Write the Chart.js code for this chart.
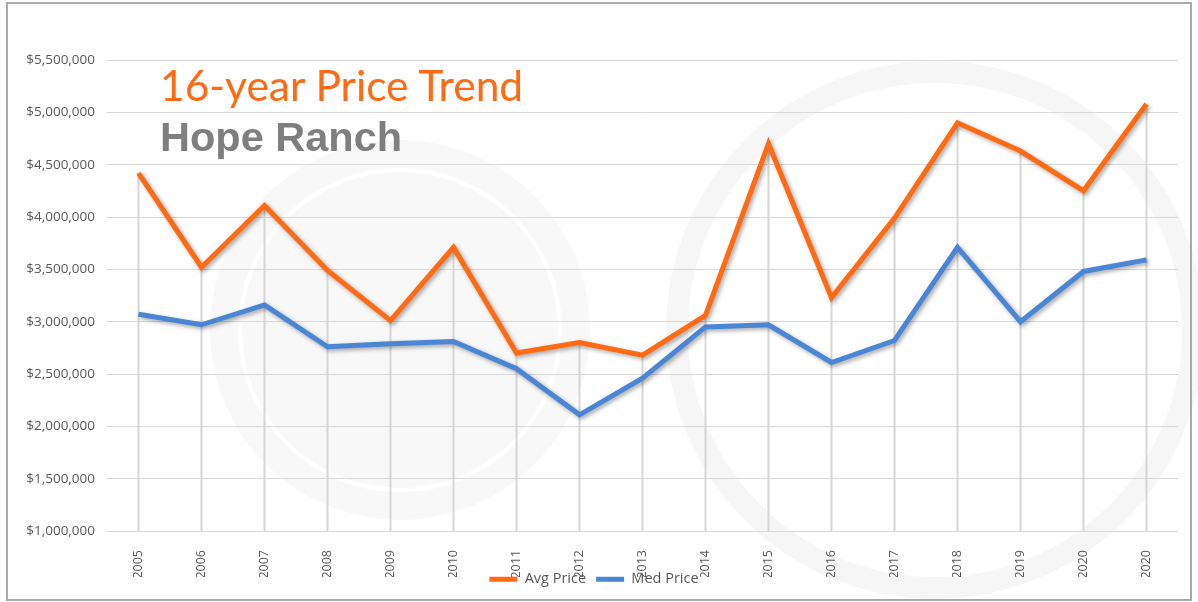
<!DOCTYPE html>
<html>
<head>
<meta charset="utf-8">
<script src="https://cdn.jsdelivr.net/npm/chart.js@4.4.1/dist/chart.umd.min.js"></script>
<style>
    html, body { margin: 0; padding: 0; background: #fff; }
    #wrap { position: relative; width: 1198px; height: 602px; }
    #frame {
        position: absolute; left: 6px; top: 2px; width: 1182px; height: 595px;
        border: 2px solid #a9a9a9; pointer-events: none;
    }
    .heading { position: absolute; left: 160px; white-space: nowrap; pointer-events: none; }
    #title1 { top: 59px; font-family: Lato, sans-serif; font-size: 42.5px; color: #ff6a13; }
    #title2 { top: 113px; font-family: "Liberation Sans", Arial, sans-serif; font-weight: bold; font-size: 41.5px; color: #7f7f7f; }
</style>
</head>
<body>
<div id="wrap">
    <canvas id="price-chart" width="1198" height="602"></canvas>
    <div id="frame"></div>
    <div class="heading" id="title1">16-year Price Trend</div>
    <div class="heading" id="title2">Hope Ranch</div>
</div>
<script>
// Categories (the source chart repeats 2020 at the end)
const years = ['2005', '2006', '2007', '2008', '2009', '2010', '2011', '2012', '2013',
    '2014', '2015', '2016', '2017', '2018', '2019', '2020', '2020'];

// Series values
const avgPrice = [4420000, 3520000, 4110000, 3490000, 3010000, 3710000, 2700000, 2800000, 2680000,
    3060000, 4700000, 3230000, 3990000, 4900000, 4630000, 4250000, 5080000];
const medPrice = [3070000, 2970000, 3160000, 2760000, 2790000, 2810000, 2550000, 2110000, 2460000,
    2950000, 2970000, 2610000, 2820000, 3710000, 3000000, 3480000, 3590000];

// Y axis range
const yMin = 1000000;
const yMax = 5500000;
const yStep = 500000;

const ORANGE = '#ff6a13';
const BLUE = '#4a86d4';

// Faint watermark shapes behind everything
const watermark = {
    id: 'watermark',
    beforeDraw(chart) {
        const ctx = chart.ctx;
        ctx.save();
        // left badge
        ctx.fillStyle = '#f8f8f8';
        ctx.beginPath();
        ctx.arc(400, 330, 190, 0, Math.PI * 2);
        ctx.fill();
        ctx.strokeStyle = '#ffffff';
        ctx.lineWidth = 4;
        ctx.beginPath();
        ctx.arc(400, 330, 160, 0, Math.PI * 2);
        ctx.stroke();
        // right ring
        ctx.strokeStyle = '#f6f6f6';
        ctx.lineWidth = 22;
        ctx.beginPath();
        ctx.arc(935, 330, 258, 0, Math.PI * 2);
        ctx.stroke();
        ctx.restore();
    }
};

// Drop lines from the highest series point down to the axis
const dropLines = {
    id: 'dropLines',
    beforeDatasetsDraw(chart) {
        const ctx = chart.ctx;
        const x = chart.scales.x;
        const y = chart.scales.y;
        ctx.save();
        ctx.strokeStyle = '#d6d6d6';
        ctx.lineWidth = 2;
        years.forEach((_, i) => {
            const px = x.getPixelForValue(i);
            const top = Math.max(avgPrice[i], medPrice[i]);
            ctx.beginPath();
            ctx.moveTo(px, y.getPixelForValue(top));
            ctx.lineTo(px, y.bottom);
            ctx.stroke();
        });
        ctx.restore();
    }
};

// Soft shadow under the lines
const lineShadow = {
    id: 'lineShadow',
    beforeDatasetDraw(chart) {
        const ctx = chart.ctx;
        ctx.save();
        ctx.shadowColor = 'rgba(0,0,0,0.35)';
        ctx.shadowBlur = 4;
        ctx.shadowOffsetX = 2;
        ctx.shadowOffsetY = 2;
    },
    afterDatasetDraw(chart) {
        chart.ctx.restore();
    }
};

// The source legend is squeezed in and overlaps the tick labels a bit
const legendFit = {
    id: 'legendFit',
    beforeLayout(chart) {
        const lg = chart.legend;
        if (!lg || lg._fitWrapped) return;
        const fit = lg.fit;
        lg.fit = function () {
            fit.call(this);
            this.height = 25;
        };
        lg._fitWrapped = true;
    },
    afterLayout(chart) {
        const lg = chart.legend;
        lg.top = 562;
        lg.bottom = 587;
    }
};

new Chart(document.getElementById('price-chart').getContext('2d'), {
    type: 'line',
    data: {
        labels: years,
        datasets: [{
            label: 'Avg Price',
            data: avgPrice,
            borderColor: ORANGE,
            backgroundColor: ORANGE,
            borderWidth: 5,
            pointRadius: 0,
            tension: 0
        }, {
            label: 'Med Price',
            data: medPrice,
            borderColor: BLUE,
            backgroundColor: BLUE,
            borderWidth: 5,
            pointRadius: 0,
            tension: 0
        }]
    },
    options: {
        responsive: false,
        animation: false,
        layout: { padding: { left: 10, right: 20, top: 60, bottom: 0 } },
        plugins: {
            tooltip: { enabled: false },
            legend: {
                position: 'bottom',
                labels: {
                    boxWidth: 28,
                    boxHeight: 5,
                    padding: 10,
                    color: '#595959',
                    font: { family: '"Open Sans", sans-serif', size: 14.5 },
                    generateLabels(chart) {
                        const items = Chart.defaults.plugins.legend.labels.generateLabels(chart);
                        items.forEach(it => { it.lineWidth = 0; });
                        return items;
                    }
                }
            }
        },
        scales: {
            x: {
                offset: true,
                grid: { display: false },
                border: { display: false },
                ticks: {
                    color: '#595959',
                    font: { family: '"Open Sans", sans-serif', size: 12.5 },
                    maxRotation: 90,
                    minRotation: 90,
                    padding: 11
                },
                afterFit(scale) { scale.height = 46; }
            },
            y: {
                min: yMin,
                max: yMax,
                grid: { color: '#d9d9d9', lineWidth: 1, drawTicks: false },
                border: { display: false },
                ticks: {
                    stepSize: yStep,
                    padding: 12,
                    color: '#595959',
                    font: { family: '"Open Sans", sans-serif', size: 13.5 },
                    callback: v => '$' + v.toLocaleString('en-US')
                },
                afterFit(scale) { scale.width = 97; }
            }
        }
    },
    plugins: [watermark, dropLines, lineShadow, legendFit]
});
</script>
</body>
</html>
